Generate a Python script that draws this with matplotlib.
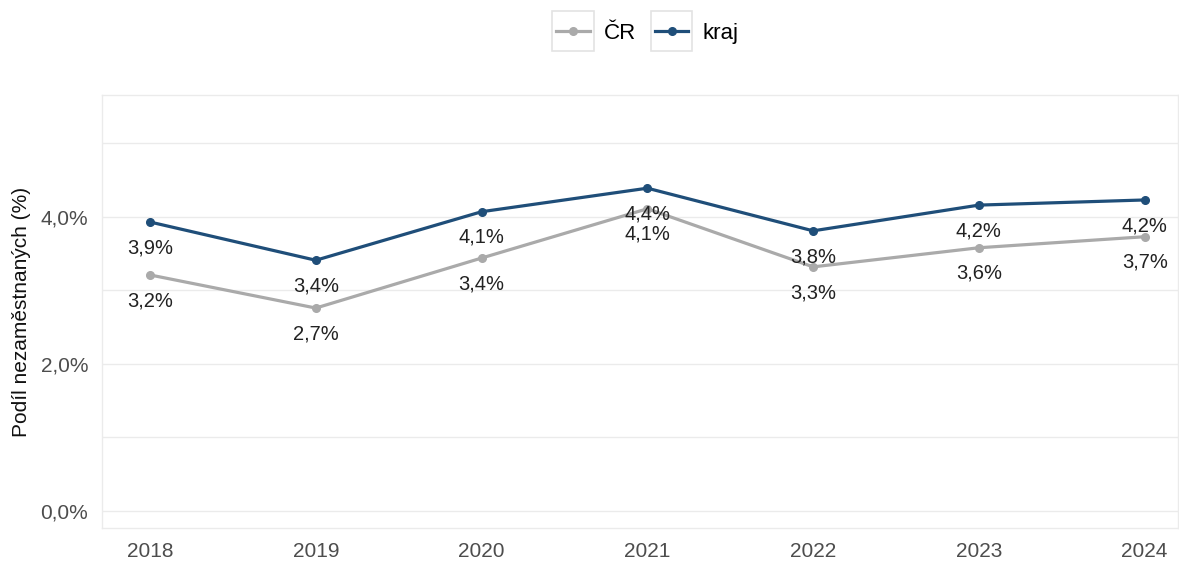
import matplotlib
matplotlib.use("Agg")
import matplotlib.pyplot as plt
from matplotlib.legend_handler import HandlerLine2D
from matplotlib.patches import Rectangle
from matplotlib.ticker import FixedLocator

plt.rcParams['font.family'] = ['Liberation Sans', 'DejaVu Sans']

years = [2018, 2019, 2020, 2021, 2022, 2023, 2024]
cr = [3.21, 2.76, 3.44, 4.11, 3.32, 3.58, 3.73]
kraj = [3.93, 3.41, 4.07, 4.39, 3.81, 4.16, 4.23]
cr_labels = ["3,2%", "2,7%", "3,4%", "4,1%", "3,3%", "3,6%", "3,7%"]
kraj_labels = ["3,9%", "3,4%", "4,1%", "4,4%", "3,8%", "4,2%", "4,2%"]
yticks = [0, 2, 4]
ytick_labels = ["0,0%", "2,0%", "4,0%"]

c_cr = "#AAAAAA"
c_kraj = "#1F4E79"

fig = plt.figure(figsize=(11.79, 5.61), dpi=100)
ax = fig.add_axes([0.0865, 0.059, 0.9125, 0.772])

l_cr, = ax.plot(years, cr, color=c_cr, lw=2.3, marker='o', ms=5.5, label="ČR")
l_kr, = ax.plot(years, kraj, color=c_kraj, lw=2.3, marker='o', ms=5.5, label="kraj")

for x, y, t in zip(years, kraj, kraj_labels):
    ax.annotate(t, (x, y), xytext=(0, -18.5), textcoords='offset points',
                ha='center', va='center', fontsize=14.5, color='#222222')
for x, y, t in zip(years, cr, cr_labels):
    ax.annotate(t, (x, y), xytext=(0, -18.5), textcoords='offset points',
                ha='center', va='center', fontsize=14.5, color='#222222')

ax.set_xlim(2017.71, 2024.2)
ax.set_ylim(-0.23, 5.66)
ax.set_xticks(years)
ax.set_xticklabels([str(y) for y in years])
ax.yaxis.set_major_locator(FixedLocator(yticks))
ax.set_yticklabels(ytick_labels)
ax.yaxis.set_minor_locator(FixedLocator([1, 3, 5]))
ax.grid(True, which='both', axis='y', color='#EBEBEB', lw=1)
ax.set_axisbelow(True)
ax.tick_params(axis='both', which='both', length=0, labelsize=15, labelcolor='#4D4D4D')
ax.tick_params(axis='x', pad=10)
ax.tick_params(axis='y', pad=10)
for s in ax.spines.values():
    s.set_color('#EBEBEB')
    s.set_linewidth(1)

fig.text(22 / 1179, 1 - 312 / 561, "Podíl nezaměstnaných (%)", rotation=90,
         ha='center', va='center', fontsize=15, color='#111111')


class BoxedHandler(HandlerLine2D):
    def create_artists(self, legend, orig_handle, xdescent, ydescent, width, height, fontsize, trans):
        arts = super().create_artists(legend, orig_handle, xdescent, ydescent, width, height, fontsize, trans)
        padx = 2.9
        boxh = 29.0
        cy = -ydescent + height / 2
        r = Rectangle((-xdescent - padx, cy - boxh / 2), width + 2 * padx, boxh,
                      facecolor='white', edgecolor='#E3E3E3', lw=1.2, transform=trans)
        return [r] + list(arts)


leg = fig.legend(handles=[l_cr, l_kr], loc='center', bbox_to_anchor=(0.549, 0.941), ncol=2,
                 frameon=False, fontsize=16, handlelength=1.5, columnspacing=0.86, handletextpad=0.63,
                 handler_map={l_cr: BoxedHandler(), l_kr: BoxedHandler()})

fig.savefig("out.png", dpi=100)
